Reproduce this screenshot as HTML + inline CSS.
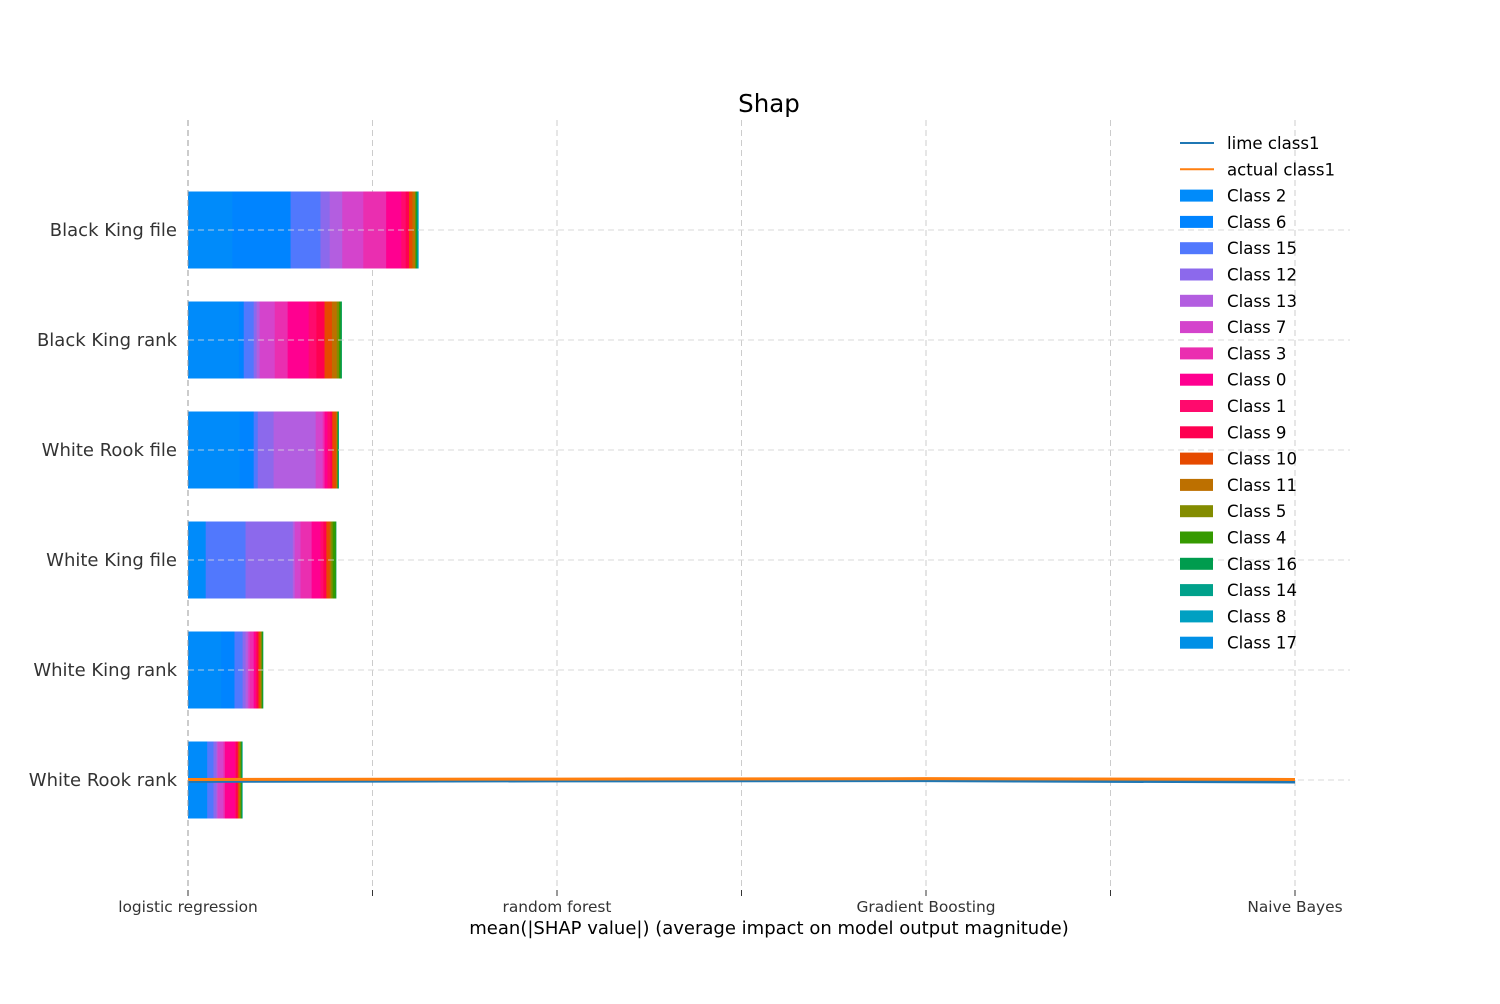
<!DOCTYPE html>
<html><head><meta charset="utf-8"><title>Shap</title>
<style>
body{margin:0;background:#fff;width:1500px;height:1000px;overflow:hidden;font-family:"DejaVu Sans","Liberation Sans",sans-serif;}
svg text{font-family:"DejaVu Sans","Liberation Sans",sans-serif;}
</style></head><body>
<svg id="chart" width="1500" height="1000" xmlns="http://www.w3.org/2000/svg">
<rect width="1500" height="1000" fill="#fff"/>
<g id="grid"></g>
<g id="bars"></g>
<g id="lines"></g>
<g id="axes"></g>
<g id="legend"></g>
<text x="769" y="112" font-size="24.5" text-anchor="middle" fill="#000">Shap</text>
<text x="769" y="934" font-size="18" text-anchor="middle" fill="#000">mean(|SHAP value|) (average impact on model output magnitude)</text>
</svg>
<script>
// data
const features = ["White Rook rank","White King rank","White King file","White Rook file","Black King rank","Black King file"];
const classNames = ["Class 2","Class 6","Class 15","Class 12","Class 13","Class 7","Class 3","Class 0","Class 1","Class 9","Class 10","Class 11","Class 5","Class 4","Class 16","Class 14","Class 8","Class 17"];
const classColors = ["#008bfa","#0084ff","#5178fd","#8c69ec","#b35ee0","#d444cc","#ea2eb0","#ff0090","#ff0a6d","#ff0051","#e64a00","#bd7000","#838c00","#359a00","#009c4e","#00a18b","#00a0c2","#0090e6"];
// shap values per feature (rows match features), columns match classNames, in x-axis units
const shapWhiteRookRank = [0.052,0.0,0.017,0.008,0.003,0.016,0.004,0.027,0.003,0.005,0.003,0.003,0.002,0.002,0.001,0.001,0,0];
const shapWhiteKingRank = [0.090,0.036,0.022,0.008,0.006,0.005,0.011,0.005,0.003,0.005,0.004,0.003,0.002,0.002,0.001,0,0,0];
const shapWhiteKingFile = [0.048,0.0,0.108,0.128,0.005,0.016,0.030,0.024,0.008,0.008,0.009,0.003,0.005,0.008,0.001,0,0,0];
const shapWhiteRookFile = [0.140,0.038,0.011,0.043,0.114,0.019,0.005,0.008,0.008,0.005,0.010,0.003,0.001,0.001,0.001,0.001,0,0];
const shapBlackKingRank = [0.138,0.013,0.027,0.008,0.008,0.041,0.035,0.057,0.021,0.022,0.020,0.013,0.006,0.004,0.003,0,0,0];
const shapBlackKingFile = [0.120,0.158,0.081,0.025,0.034,0.057,0.062,0.041,0.012,0.009,0.009,0.007,0.002,0.002,0.002,0.002,0.001,0];
const shapRows = [shapWhiteRookRank,shapWhiteKingRank,shapWhiteKingFile,shapWhiteRookFile,shapBlackKingRank,shapBlackKingFile];
const models = ["logistic regression","random forest","Gradient Boosting","Naive Bayes"];
const limeClass1 = [-0.012,-0.008,-0.006,-0.018];
const actualClass1 = [0.005,0.008,0.012,0.005];
const xTicks = [0,0.5,1,1.5,2,2.5,3];

const NS="http://www.w3.org/2000/svg";
const X0=188, PXU=369, Y0=780, ROW=110, BH=77;
const xs=v=>X0+v*PXU;
const ys=i=>Y0-i*ROW;
function mk(tag,parent,attrs){const e=document.createElementNS(NS,tag);for(const k in attrs)e.setAttribute(k,attrs[k]);parent.appendChild(e);return e;}
const grid=document.getElementById('grid'),bars=document.getElementById('bars'),lines=document.getElementById('lines'),axes=document.getElementById('axes'),legend=document.getElementById('legend');

xTicks.forEach((t,i)=>{
  const g=mk('line',grid,{x1:xs(t),x2:xs(t),y1:120,y2:890,stroke:'#cccccc','stroke-dasharray':'6,4','stroke-width':1});
  
  
  const tk=mk('line',axes,{x1:xs(t),x2:xs(t),y1:890,y2:896,stroke:'#333','stroke-width':1});
  
  
});
features.forEach((f,i)=>{
  const g=mk('line',grid,{x1:X0,x2:1350,y1:ys(i),y2:ys(i),stroke:'#cccccc','stroke-dasharray':'6,4','stroke-width':1});
  
  
  const t=mk('text',axes,{x:177,y:ys(i)+6,'font-size':18,'text-anchor':'end',fill:'#333'});
  t.textContent=f;
  
  
  let acc=0;
  shapRows[i].forEach((v,c)=>{
    if(v<=0)return;
    const r=mk('rect',bars,{x:xs(acc),y:ys(i)-BH/2,width:v*PXU+0.4,height:BH,fill:classColors[c]});
    
    
    acc+=v;
  });
});
features.forEach((f,i)=>{
  const g=mk('line',bars,{x1:X0,x2:1350,y1:ys(i),y2:ys(i),stroke:'#dddddd','stroke-dasharray':'6,4','stroke-width':1,opacity:0.8});
  
  
});
const axl=mk('line',axes,{x1:X0,x2:X0,y1:120,y2:890,stroke:'#999','stroke-dasharray':'6,4'});


models.forEach((m,i)=>{
  const t=mk('text',axes,{x:xs(i),y:912,'font-size':15.4,'text-anchor':'middle',fill:'#333'});
  t.textContent=m;
  
  
});
function series(vals,color,name){
  const d=vals.map((v,i)=>(i?'L':'M')+xs(i)+','+(Y0-v*ROW)).join(' ');
  const p=mk('path',lines,{d:d,fill:'none',stroke:color,'stroke-width':3});
  
  
}
series(limeClass1,'#1f77b4','lime-class1-line');
series(actualClass1,'#ff7f0e','actual-class1-line');
const items=[{n:'lime class1',c:'#1f77b4',line:true},{n:'actual class1',c:'#ff7f0e',line:true}].concat(classNames.map((n,i)=>({n:n,c:classColors[i]})));
items.forEach((it,i)=>{
  const y=143+i*26.3;
  if(it.line){
    const l=mk('line',legend,{x1:1180,x2:1214,y1:y,y2:y,stroke:it.c,'stroke-width':2});
    
    
  } else {
    const r=mk('rect',legend,{x:1180,y:y-6,width:33,height:12,fill:it.c});
    
    
  }
  const t=mk('text',legend,{x:1227,y:y+6,'font-size':16.6,fill:'#000'});
  t.textContent=it.n;
  
  
});
</script>
</body></html>
